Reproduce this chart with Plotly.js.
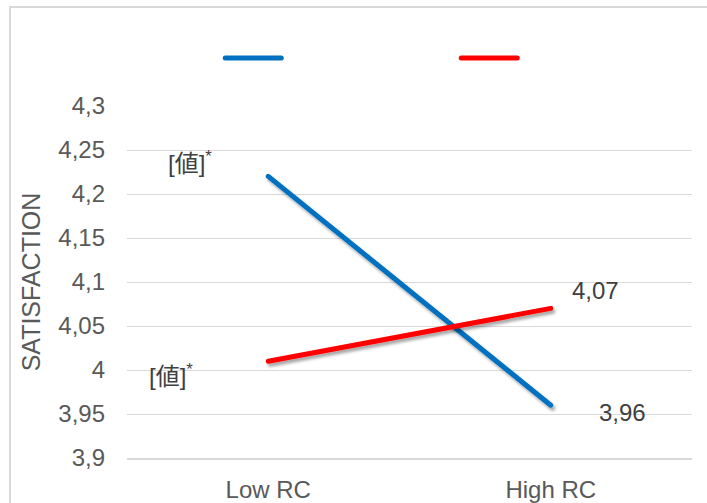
<!DOCTYPE html>
<html>
<head>
<meta charset="utf-8">
<script src="https://cdn.plot.ly/plotly-3.0.1.min.js"></script>
<style>
  html, body { margin: 0; padding: 0; background: #ffffff; overflow: hidden; }
  #frame { position: absolute; left: 9px; top: 6px; width: 760px; height: 560px;
           border: 2px solid #d9d9d9; box-sizing: border-box; }
  #chart { position: absolute; left: 0; top: 0; width: 707px; height: 503px; }
  .scatterlayer path.js-line { stroke-linecap: round; }
  .scatterlayer .trace { filter: url(#lineShadow); }
  .legend path.js-line { stroke-linecap: round; }
</style>
</head>
<body>
<svg width="0" height="0" style="position:absolute">
  <defs>
    <filter id="lineShadow" x="-10%" y="-10%" width="130%" height="130%">
      <feDropShadow dx="2" dy="3" stdDeviation="1.8" flood-color="#000" flood-opacity="0.35"/>
    </filter>
  </defs>
</svg>
<div id="frame"></div>
<div id="chart"></div>
<script>
// Data
const categories = ["Low RC", "High RC"];
const seriesNames = ["", ""];
const blueValues = [4.22, 3.96];
const redValues = [4.01, 4.07];
const blueLabels = ["[値]<sup>*</sup>", "3,96"];
const redLabels = ["[値]<sup>*</sup>", "4,07"];
const yTickVals = [3.9, 3.95, 4, 4.05, 4.1, 4.15, 4.2, 4.25, 4.3];
const yTickText = ["3,9", "3,95", "4", "4,05", "4,1", "4,15", "4,2", "4,25", "4,3"];

const FONT = '"Liberation Sans", Arial, "Noto Sans CJK JP", sans-serif';
const BLUE = '#0070C0';
const RED = '#FF0000';

const traces = [
  { x: categories, y: blueValues, name: seriesNames[0] || ' ', type: 'scatter', mode: 'lines',
    line: { color: BLUE, width: 5 }, hoverinfo: 'skip' },
  { x: categories, y: redValues, name: seriesNames[1] || ' ', type: 'scatter', mode: 'lines',
    line: { color: RED, width: 5 }, hoverinfo: 'skip' }
];

// label offsets (styling only)
const blueShifts = [[-78, 14], [72, -7]];
const redShifts = [[-97, -14], [45, 18]];
const annotations = [];
categories.forEach((c, i) => {
  annotations.push({ x: c, y: blueValues[i], xref: 'x', yref: 'y', text: blueLabels[i],
    showarrow: false, xshift: blueShifts[i][0], yshift: blueShifts[i][1],
    font: { family: FONT, size: 24, color: '#404040' } });
  annotations.push({ x: c, y: redValues[i], xref: 'x', yref: 'y', text: redLabels[i],
    showarrow: false, xshift: redShifts[i][0], yshift: redShifts[i][1],
    font: { family: FONT, size: 24, color: '#404040' } });
});

const layout = {
  width: 707, height: 503,
  paper_bgcolor: 'rgba(0,0,0,0)', plot_bgcolor: 'rgba(0,0,0,0)',
  margin: { l: 127, r: 15, t: 106, b: 45 },
  font: { family: FONT, color: '#595959' },
  showlegend: true,
  legend: { orientation: 'h', x: 0.165, xanchor: 'left', y: 1.136, yanchor: 'middle',
            entrywidth: 191, entrywidthmode: 'pixels', font: { size: 16 } },
  xaxis: { type: 'category', range: [-0.5, 1.5], showgrid: false, zeroline: false, showline: true,
           linecolor: '#d9d9d9', linewidth: 2, ticks: '', ticklabelstandoff: 9,
           tickfont: { size: 24, color: '#595959' }, fixedrange: true },
  yaxis: { range: [3.9, 4.3], tickvals: yTickVals, ticktext: yTickText,
           showgrid: true, gridcolor: '#d9d9d9', gridwidth: 1, zeroline: false,
           showline: false, ticks: '', ticklabelstandoff: 21,
           tickfont: { size: 24, color: '#595959' },
           title: { text: 'SATISFACTION', font: { size: 25, color: '#595959' }, standoff: 10 },
           fixedrange: true },
  annotations: annotations
};

Plotly.newPlot('chart', traces, layout, { staticPlot: true, displayModeBar: false }).then(gd => {
  // widen the legend line swatches to match the reference's longer sample lines
  gd.querySelectorAll('.legend path.js-line').forEach(p => p.setAttribute('d', 'M5,0h56'));
});
</script>
</body>
</html>
